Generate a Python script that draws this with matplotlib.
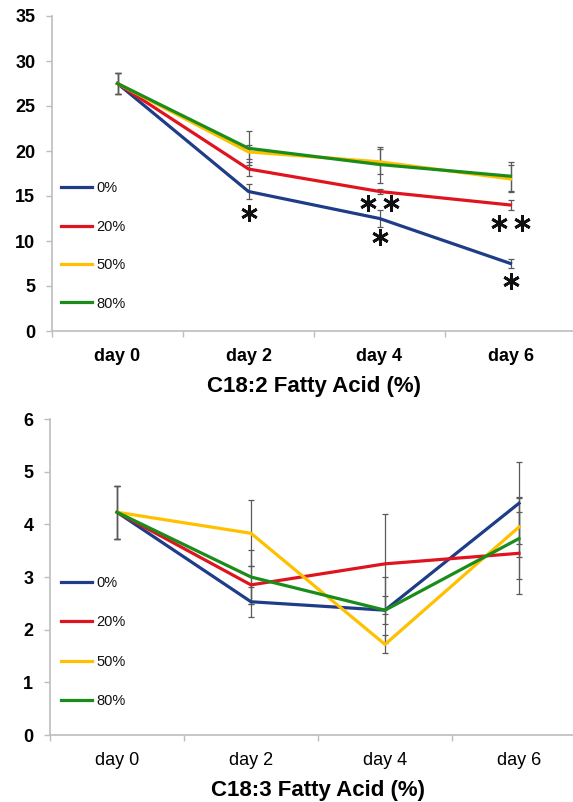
import matplotlib
matplotlib.use("Agg")
import matplotlib.pyplot as plt
from matplotlib.lines import Line2D

# ---- data -------------------------------------------------------------
days = ["day 0", "day 2", "day 4", "day 6"]
groups = ["0%", "20%", "50%", "80%"]
colors = ["#1F3C88", "#E0141E", "#FFC000", "#1A8C1A"]

# C18:2 fatty acid (%)
c182_0 = [27.5, 15.5, 12.5, 7.5]
c182_20 = [27.5, 18.0, 15.5, 14.0]
c182_50 = [27.5, 19.9, 18.8, 16.9]
c182_80 = [27.5, 20.3, 18.5, 17.2]
c182_err_0 = [1.2, 0.8, 0.9, 0.5]
c182_err_20 = [1.2, 0.8, 0.3, 0.55]
c182_err_50 = [1.2, 0.8, 1.4, 1.5]
c182_err_80 = [1.2, 1.9, 2.0, 1.6]

# significance marks for C18:2: day index, height, number of asterisks
sig_day = [1, 2, 2, 3, 3]
sig_y = [13.15, 14.2, 10.4, 12.0, 5.55]
sig_n = [1, 2, 1, 2, 1]

# C18:3 fatty acid (%)
c183_0 = [4.23, 2.53, 2.37, 4.40]
c183_20 = [4.23, 2.85, 3.25, 3.45]
c183_50 = [4.23, 3.83, 1.72, 3.95]
c183_80 = [4.23, 3.00, 2.37, 3.73]
c183_err_0 = [0.5, 0.28, 0.26, 0.78]
c183_err_20 = [0.5, 0.36, 0.95, 0.78]
c183_err_50 = [0.5, 0.63, 0.17, 0.57]
c183_err_80 = [0.5, 0.52, 0.63, 0.77]

FONT = "Liberation Sans"
AXIS_GREY = "#BDBDBD"
ERR_GREY = "#5A5A5A"

fig = plt.figure(figsize=(5.73, 8.02), dpi=100)


def make_panel(rect, series, errors, ymax, ystep, title, xlab_weight, legend_top, legend_gap):
    ax = fig.add_axes(rect)
    x = list(range(len(days)))
    for vals, errs in zip(series, errors):
        ax.errorbar(x, vals, yerr=errs, fmt="none", ecolor=ERR_GREY,
                    elinewidth=0.9, capsize=2.5, capthick=0.9, zorder=2)
    for vals, col, lab in zip(series, colors, groups):
        ax.plot(x, vals, color=col, lw=2.3, label=lab, zorder=3)

    ax.set_xlim(-0.5, len(days) - 0.5)
    ax.set_ylim(0, ymax)
    n_y = int(ymax / ystep) + 1
    ax.set_yticks([i * ystep for i in range(n_y)])
    ax.set_yticklabels([f"{int(i * ystep)}" for i in range(n_y)],
                       fontfamily=FONT, fontweight="bold", fontsize=13)
    # category boundaries carry the tick marks, labels sit in between
    ax.set_xticks([i - 0.5 for i in range(len(days) + 1)])
    ax.set_xticklabels([])
    ax.set_xticks(x, minor=True)
    ax.set_xticklabels(days, minor=True, fontfamily=FONT,
                       fontweight=xlab_weight, fontsize=13)
    ax.tick_params(axis="x", which="minor", length=0, pad=12)
    ax.tick_params(axis="x", which="major", length=4, width=1, color=AXIS_GREY)
    ax.tick_params(axis="y", length=4, width=1, color=AXIS_GREY, pad=8)

    for s in ("top", "right"):
        ax.spines[s].set_visible(False)
    for s in ("left", "bottom"):
        ax.spines[s].set_color(AXIS_GREY)
        ax.spines[s].set_linewidth(1.2)

    ax.set_xlabel(title, fontfamily=FONT, fontweight="bold", fontsize=16,
                  labelpad=8)

    handles = [Line2D([0], [0], color=c, lw=2.3) for c in colors]
    leg = ax.legend(handles, groups, loc="upper left",
                    bbox_to_anchor=(61 / 573, legend_top), bbox_transform=fig.transFigure,
                    frameon=False, handlelength=2.15, handletextpad=0.3,
                    labelspacing=legend_gap, borderaxespad=0, borderpad=0,
                    prop={"family": FONT, "size": 10.5})
    for t in leg.get_texts():
        t.set_color("#111111")
    return ax


ax1 = make_panel([52 / 573, 1 - 331 / 802, 524 / 573, 315 / 802],
                 [c182_0, c182_20, c182_50, c182_80],
                 [c182_err_0, c182_err_20, c182_err_50, c182_err_80],
                 35, 5, "C18:2 Fatty Acid (%)", "bold",
                 1 - 181.5 / 802, 1.67)

# asterisks marking significant differences
for d, yv, n in zip(sig_day, sig_y, sig_n):
    offs = [0.0] if n == 1 else [-0.087, 0.087]
    for o in offs:
        ax1.plot(d + o, yv, marker=(6, 2, 0), markersize=12, mew=2.0,
                 color="#111111", zorder=4, clip_on=False)

ax2 = make_panel([50 / 573, 1 - 735 / 802, 536 / 573, 316 / 802],
                 [c183_0, c183_20, c183_50, c183_80],
                 [c183_err_0, c183_err_20, c183_err_50, c183_err_80],
                 6, 1, "C18:3 Fatty Acid (%)", "normal",
                 1 - 576 / 802, 1.74)

fig.savefig("out.png", dpi=100)
